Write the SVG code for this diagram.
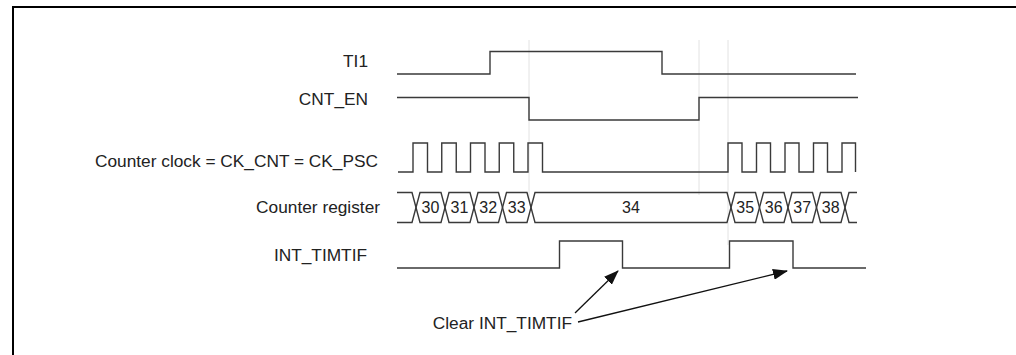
<svg xmlns="http://www.w3.org/2000/svg" width="1016" height="355" viewBox="0 0 1016 355">
<style>
.lbl{font-family:"Liberation Sans",Arial,sans-serif;font-size:17.3px;fill:#222;text-anchor:end}
.num{font-family:"Liberation Sans",Arial,sans-serif;font-size:16px;fill:#222;text-anchor:middle}
.sig{fill:none;stroke:#3a3a3a;stroke-width:1.4;stroke-linejoin:miter}
.guide{stroke:#e2e2e2;stroke-width:1}
.arr{fill:none;stroke:#111;stroke-width:1.3}
</style>
<defs>
<marker id="ah" markerWidth="15" markerHeight="11" refX="14" refY="5.5" orient="auto" markerUnits="userSpaceOnUse">
<path d="M0,0 L15,5.5 L0,11 Z" fill="#111"/>
</marker>
</defs>
<rect x="13" y="7" width="1020" height="360" fill="none" stroke="#000" stroke-width="2"/>
<g id="guides">
<line class="guide" x1="529" y1="40" x2="529" y2="200"/>
<line class="guide" x1="699" y1="40" x2="699" y2="195"/>
<line class="guide" x1="728" y1="40" x2="728" y2="245"/>
</g>
<g id="ti1">
<text class="lbl" x="368" y="67">TI1</text>
<path class="sig" d="M397,74 H490 V51.5 H662 V74 H856"/>
</g>
<g id="cnt_en">
<text class="lbl" x="368" y="105">CNT_EN</text>
<path class="sig" d="M397,97.5 H529 V120 H699 V97.5 H858"/>
</g>
<g id="clock">
<text class="lbl" x="378" y="167">Counter clock = CK_CNT = CK_PSC</text>
<path class="sig" d="M398,172 H413 V143 H427.5 V172 H441.75 V143 H456.25 V172 H470.5 V143 H485 V172 H499.25 V143 H513.75 V172 H528 V143 H542.5 V172 H728 V143 H742 V172 H756.5 V143 H770.5 V172 H785 V143 H799 V172 H813.5 V143 H827.5 V172 H842 V143 H855.5 V172"/>
</g>
<g id="counter">
<text class="lbl" x="380" y="213">Counter register</text>
<path class="sig" d="M397,192.5 H412 L420,222.5 H441 L449,192.5 H470 L478,222.5 H498.5 L506.5,192.5 H527 L535,222.5 H727 L735,192.5 H755.5 L763.5,222.5 H784 L792,192.5 H812.5 L820.5,222.5 H841 L849,192.5 H857"/>
<path class="sig" d="M397,222.5 H412 L420,192.5 H441 L449,222.5 H470 L478,192.5 H498.5 L506.5,222.5 H527 L535,192.5 H727 L735,222.5 H755.5 L763.5,192.5 H784 L792,222.5 H812.5 L820.5,192.5 H841 L849,222.5 H857"/>
<text class="num" x="430.5" y="213">30</text>
<text class="num" x="459.5" y="213">31</text>
<text class="num" x="488.25" y="213">32</text>
<text class="num" x="516.75" y="213">33</text>
<text class="num" x="631" y="213">34</text>
<text class="num" x="745.25" y="213">35</text>
<text class="num" x="773.75" y="213">36</text>
<text class="num" x="802.25" y="213">37</text>
<text class="num" x="830.75" y="213">38</text>
</g>
<g id="int_timtif">
<text class="lbl" x="367" y="261">INT_TIMTIF</text>
<path class="sig" d="M397,268 H559.5 V241 H622.5 V268 H729.5 V241 H793 V268 H866"/>
</g>
<g id="clear_label">
<text class="lbl" x="572" y="329">Clear INT_TIMTIF</text>
</g>
<g id="connectors">
<line class="arr" x1="575" y1="313" x2="618" y2="271" marker-end="url(#ah)"/>
<line class="arr" x1="578" y1="322" x2="787" y2="271" marker-end="url(#ah)"/>
</g>
</svg>
